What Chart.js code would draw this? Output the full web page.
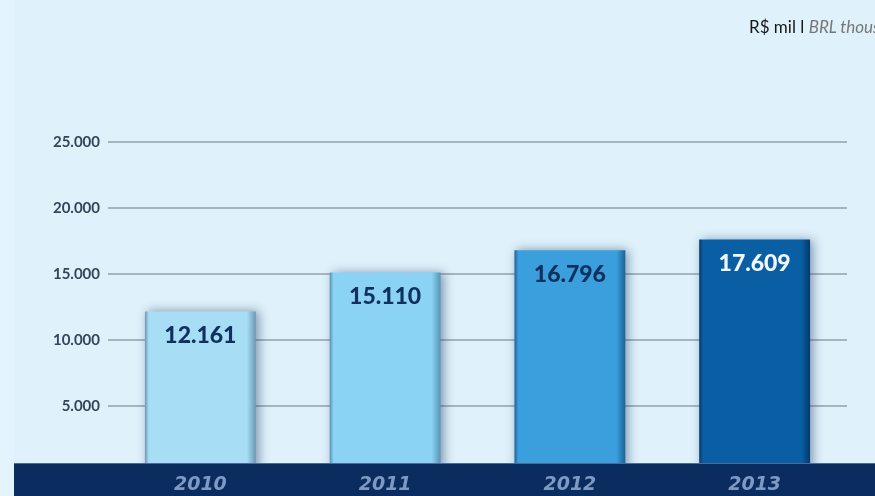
<!DOCTYPE html>
<html>
<head>
<meta charset="utf-8">
<script src="https://cdn.jsdelivr.net/npm/chart.js@4.4.1/dist/chart.umd.min.js"></script>
<style>
  html, body { margin: 0; padding: 0; width: 875px; height: 496px; overflow: hidden; background: #dff1fb; }
  #wrap { position: relative; width: 875px; height: 496px; }
  #unit { position: absolute; left: 749px; top: 17px; line-height: 20px; white-space: nowrap; font-family: Lato, sans-serif; font-size: 17px; color: #161616; }
  #unit i { color: #777; }
</style>
</head>
<body>
<div id="wrap">
  <canvas id="chart" width="875" height="496"></canvas>
  <div id="unit">R$ mil l <i>BRL thousand</i></div>
</div>
<script>
const years = ['2010', '2011', '2012', '2013'];
const revenue = [12161, 15110, 16796, 17609];
const barColors = ['#a8ddf6', '#8bd3f4', '#3a9fdc', '#0a5fa4'];
const edgeColors = ['#6a98b2', '#5892b2', '#1b6298', '#04396b'];
const labelColors = ['#10305e', '#10305e', '#10305e', '#f2f7fb'];

// 12161 -> "12.161"
function fmt(n) {
  return String(n).replace(/\B(?=(\d{3})+(?!\d))/g, '.');
}

// horizontal gradient so each bar gets darker side edges
function barFill(ctx) {
  const chart = ctx.chart;
  const i = ctx.dataIndex;
  if (i === undefined) return barColors[0];
  if (!chart.chartArea) return barColors[i];
  const x = chart.scales.x;
  const cx = x.getPixelForValue(i);
  const w = (x.width / years.length) * 0.6;
  const g = chart.ctx.createLinearGradient(cx - w / 2, 0, cx + w / 2, 0);
  g.addColorStop(0, edgeColors[i]);
  g.addColorStop(0.035, barColors[i]);
  g.addColorStop(0.92, barColors[i]);
  g.addColorStop(1, edgeColors[i]);
  return g;
}

const background = {
  id: 'background',
  beforeDraw(chart) {
    const c = chart.ctx;
    c.save();
    c.fillStyle = '#dff1fb';
    c.fillRect(0, 0, chart.width, chart.height);
    c.fillStyle = '#e4f4fc';
    c.fillRect(0, 0, 14, chart.height);
    c.restore();
  }
};

const barShadow = {
  id: 'barShadow',
  beforeDatasetDraw(chart) {
    const c = chart.ctx;
    c.save();
    c.shadowColor = 'rgba(10, 40, 80, 0.45)';
    c.shadowBlur = 10;
    c.shadowOffsetX = 3;
    c.shadowOffsetY = 0;
  },
  afterDatasetDraw(chart) {
    chart.ctx.restore();
  }
};

// dark footer band under the bars plus the value written inside each bar
const footerAndValues = {
  id: 'footerAndValues',
  afterDatasetsDraw(chart) {
    const c = chart.ctx;
    const top = chart.chartArea.bottom - 9;
    c.save();
    c.fillStyle = '#0b2c5f';
    c.fillRect(14, top, chart.width - 14, chart.height - top);
    c.fillStyle = 'rgba(150, 185, 220, 0.45)';
    c.fillRect(14, top, chart.width - 14, 1);

    const meta = chart.getDatasetMeta(0);
    c.font = '900 23px Lato';
    c.textAlign = 'center';
    c.textBaseline = 'middle';
    meta.data.forEach((bar, i) => {
      c.fillStyle = labelColors[i];
      c.fillText(fmt(revenue[i]), bar.x, bar.y + 24);
    });
    c.restore();
  }
};

new Chart(document.getElementById('chart'), {
  type: 'bar',
  data: {
    labels: years,
    datasets: [{
      data: revenue,
      backgroundColor: barFill,
      borderWidth: 0,
      barPercentage: 0.6,
      categoryPercentage: 1
    }]
  },
  options: {
    responsive: false,
    animation: false,
    layout: { padding: { top: 142, right: 28, bottom: 0, left: 0 } },
    plugins: { legend: { display: false }, tooltip: { enabled: false } },
    scales: {
      x: {
        grid: { display: false, drawTicks: false },
        border: { display: false },
        ticks: {
          z: 1,
          color: '#7d99c4',
          padding: 2,
          font: { family: 'DejaVu Sans', weight: 'bold', style: 'italic', size: 19 }
        },
        afterFit(scale) { scale.height = 24; }
      },
      y: {
        min: 0,
        max: 25000,
        border: { display: false },
        grid: { color: 'rgba(135, 147, 160, 0.65)', lineWidth: 2, drawTicks: false },
        ticks: {
          stepSize: 5000,
          padding: 8,
          color: '#36445a',
          font: { family: 'Lato', size: 15, weight: 'bold' },
          callback: v => (v === 0 ? '' : fmt(v))
        },
        afterFit(scale) { scale.width = 108; }
      }
    }
  },
  plugins: [background, barShadow, footerAndValues]
});
</script>
</body>
</html>
